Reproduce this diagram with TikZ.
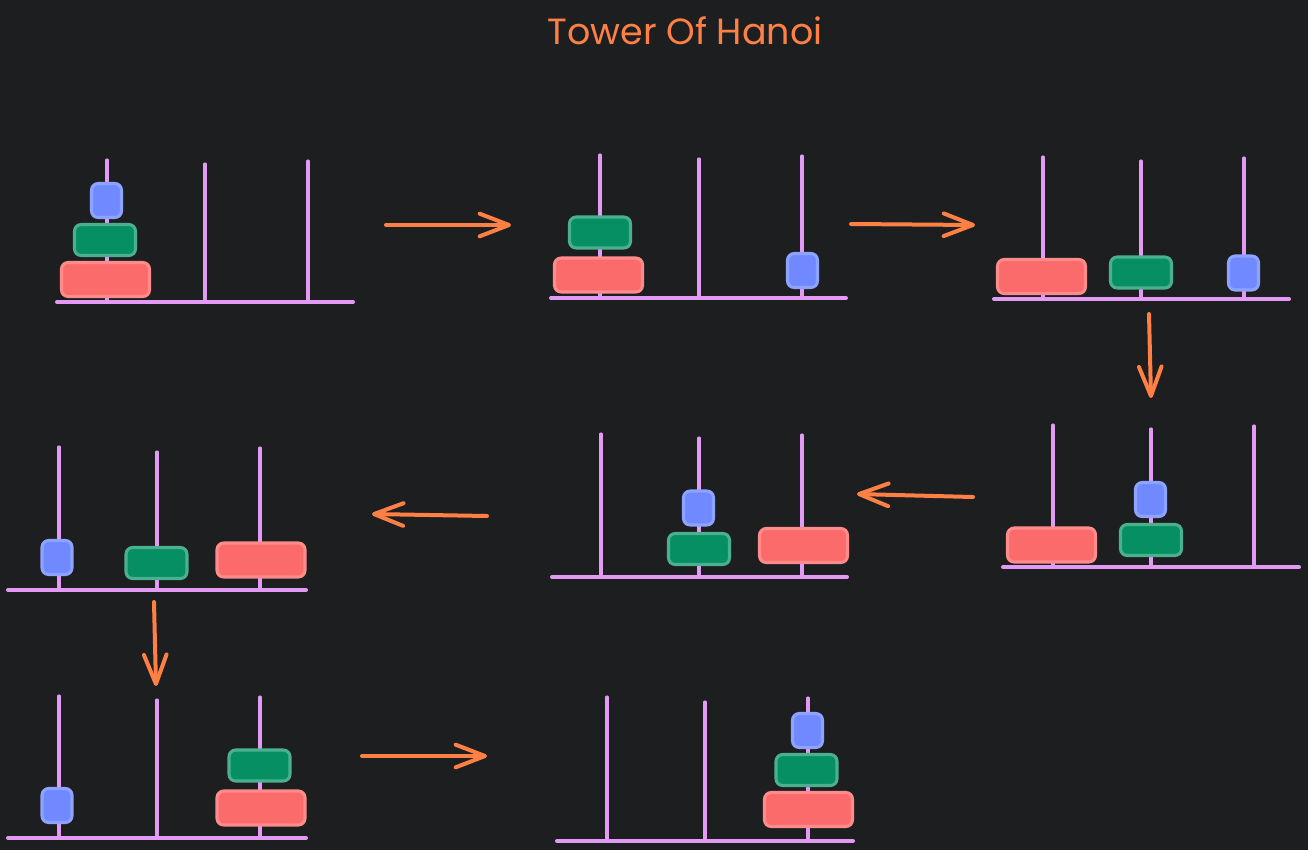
\documentclass[tikz,border=0pt]{standalone}
\usepackage{fontspec}
\newfontfamily\titlefont{Poppins}
\usetikzlibrary{arrows.meta}
\definecolor{bgc}{HTML}{1D1E20}
\definecolor{pegc}{HTML}{E29AF5}
\definecolor{bluef}{HTML}{7089FF}
\definecolor{bluee}{HTML}{8DA3FF}
\definecolor{greenf}{HTML}{058F63}
\definecolor{greene}{HTML}{4BB08E}
\definecolor{redf}{HTML}{FB6B6B}
\definecolor{rede}{HTML}{FF8B8B}
\definecolor{orangec}{HTML}{FF8045}
\begin{document}
\begin{tikzpicture}[x=0.75pt,y=-0.75pt,
  peg/.style={draw=pegc, line width=2.3pt, line cap=round},
  baseline/.style={draw=pegc, line width=3pt, line cap=round},
  disk/.style={rounded corners=5pt, line width=2.3pt, inner sep=0pt},
  bdisk/.style={disk, fill=bluef, draw=bluee, minimum width=22.5pt, minimum height=25.5pt},
  gdisk/.style={disk, fill=greenf, draw=greene, minimum width=45.75pt, minimum height=23.25pt},
  rdisk/.style={disk, fill=redf, draw=rede, minimum width=66pt, minimum height=25.5pt},
  moveto/.style={draw=orangec, line width=3pt, line cap=round,
    -{Straight Barb[length=22pt,width=17pt,line cap=round,line join=round]}}]
\fill[bgc] (0,0) rectangle (1308,850);
\useasboundingbox (0,0) rectangle (1308,850);

\node[text=orangec, inner sep=0pt] (title) at (685,31) {\resizebox{206pt}{!}{\titlefont Tower Of Hanoi}};

% panel 1
\draw[peg] (107,160) -- (107,302);
\draw[peg] (205,164) -- (205,302);
\draw[peg] (308,161) -- (308,302);
\draw[baseline] (57,302) -- (353,302);
\node[rdisk] (p1r) at (105.5,279.5) {};
\node[gdisk] (p1g) at (105,240) {};
\node[bdisk] (p1b) at (106.5,200.5) {};

% panel 2
\draw[peg] (600,155) -- (600,298);
\draw[peg] (699,159) -- (699,298);
\draw[peg] (802,156) -- (802,298);
\draw[baseline] (551,298) -- (846,298);
\node[rdisk] (p2r) at (598.5,275) {};
\node[gdisk] (p2g) at (600,232.5) {};
\node[bdisk] (p2b) at (802.5,270.5) {};

% panel 3
\draw[peg] (1043,157) -- (1043,299);
\draw[peg] (1141,161) -- (1141,299);
\draw[peg] (1244,158) -- (1244,299);
\draw[baseline] (994,299) -- (1289,299);
\node[rdisk] (p3r) at (1041.5,276.5) {};
\node[gdisk] (p3g) at (1141,272.5) {};
\node[bdisk] (p3b) at (1243.5,273) {};

% panel 4
\draw[peg] (1053,425) -- (1053,567);
\draw[peg] (1151,429) -- (1151,567);
\draw[peg] (1254,426) -- (1254,567);
\draw[baseline] (1003,567) -- (1299,567);
\node[rdisk] (p4r) at (1051.5,545) {};
\node[gdisk] (p4g) at (1151,540) {};
\node[bdisk] (p4b) at (1150.5,499.5) {};

% panel 5
\draw[peg] (601,434) -- (601,577);
\draw[peg] (699,438) -- (699,577);
\draw[peg] (802,435) -- (802,577);
\draw[baseline] (552,577) -- (847,577);
\node[rdisk] (p5r) at (803.5,545.5) {};
\node[gdisk] (p5g) at (699,549) {};
\node[bdisk] (p5b) at (698.5,508) {};

% panel 6
\draw[peg] (59,447) -- (59,590);
\draw[peg] (157,452) -- (157,590);
\draw[peg] (260,448) -- (260,590);
\draw[baseline] (8,590) -- (306,590);
\node[rdisk] (p6r) at (261,560) {};
\node[gdisk] (p6g) at (156.5,563) {};
\node[bdisk] (p6b) at (57,557.5) {};

% panel 7
\draw[peg] (59,696) -- (59,838);
\draw[peg] (157,700) -- (157,838);
\draw[peg] (260,697) -- (260,838);
\draw[baseline] (8,838) -- (306,838);
\node[rdisk] (p7r) at (261,808) {};
\node[gdisk] (p7g) at (259.5,765.5) {};
\node[bdisk] (p7b) at (57,805.5) {};

% panel 8
\draw[peg] (607,697) -- (607,841);
\draw[peg] (705,702) -- (705,841);
\draw[peg] (808,698) -- (808,841);
\draw[baseline] (557,841) -- (853,841);
\node[rdisk] (p8r) at (808.5,809.5) {};
\node[gdisk] (p8g) at (806.5,770) {};
\node[bdisk] (p8b) at (807.5,730.5) {};

% arrows
\coordinate (a1s) at (386,225); \coordinate (a1e) at (511,225);
\coordinate (a2s) at (851,224); \coordinate (a2e) at (975,225);
\coordinate (a3s) at (1149,314); \coordinate (a3e) at (1151,398);
\coordinate (a4s) at (973,497); \coordinate (a4e) at (857,494);
\coordinate (a5s) at (487,516); \coordinate (a5e) at (372,514);
\coordinate (a6s) at (154,602); \coordinate (a6e) at (156,686);
\coordinate (a7s) at (362,756); \coordinate (a7e) at (487,756);
\draw[moveto] (a1s) -- (a1e);
\draw[moveto] (a2s) -- (a2e);
\draw[moveto] (a3s) -- (a3e);
\draw[moveto] (a4s) -- (a4e);
\draw[moveto] (a5s) -- (a5e);
\draw[moveto] (a6s) -- (a6e);
\draw[moveto] (a7s) -- (a7e);
\end{tikzpicture}
\end{document}
